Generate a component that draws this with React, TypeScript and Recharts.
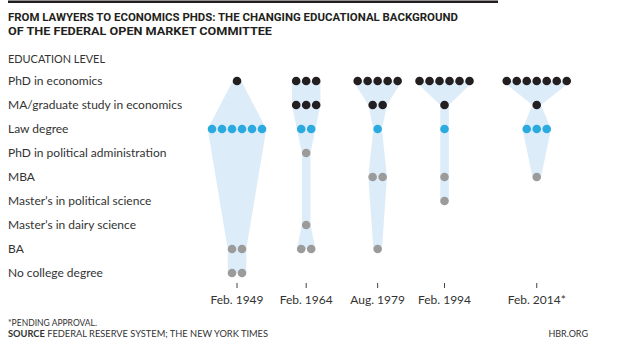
import React from 'react';
import { ComposedChart, Area, Scatter, XAxis, YAxis } from 'recharts';

// ---- data ----
const columnLabels = ['Feb. 1949', 'Feb. 1964', 'Aug. 1979', 'Feb. 1994', 'Feb. 2014*'];
const columnYears = [1949.1, 1964.1, 1979.6, 1994.1, 2014.1];
const levels = [
  'PhD in economics',
  'MA/graduate study in economics',
  'Law degree',
  'PhD in political administration',
  'MBA',
  'Master\u2019s in political science',
  'Master\u2019s in dairy science',
  'BA',
  'No college degree',
];
const levelGroup = ['econ', 'econ', 'law', 'other', 'other', 'other', 'other', 'other', 'other'];
const count1949 = [1, 0, 6, 0, 0, 0, 0, 2, 2];
const count1964 = [3, 3, 2, 1, 0, 0, 1, 2, 0];
const count1979 = [5, 2, 1, 0, 2, 0, 0, 1, 0];
const count1994 = [6, 1, 1, 0, 1, 1, 0, 0, 0];
const count2014 = [7, 1, 3, 0, 1, 0, 0, 0, 0];
const counts = [count1949, count1964, count1979, count1994, count2014];

// ---- layout ----
const W = 618;
const H = 361;
const MARGIN = { top: 57, right: 31, bottom: 48, left: 8 };
const Y_AXIS_W = 164;
const X_AXIS_H = 30;
const X_DOMAIN: [number, number] = [1935, 2025];
const PX_PER_YEAR = (W - MARGIN.left - MARGIN.right - Y_AXIS_W) / (X_DOMAIN[1] - X_DOMAIN[0]);
const DOT_STEP = 10 / PX_PER_YEAR; // spacing of dots, in axis units
const DOT_R = 4.3;
const DOT_R_UNITS = DOT_R / PX_PER_YEAR;

const COLORS: Record<string, string> = { econ: '#231f20', law: '#2aaadf', other: '#9b9b9b' };
const BAND = '#ddecf9';

const dotsByGroup: Record<string, { x: number; row: number }[]> = { econ: [], law: [], other: [] };
counts.forEach((col, c) => {
  col.forEach((n, row) => {
    for (let k = 0; k < n; k++) {
      dotsByGroup[levelGroup[row]].push({ x: columnYears[c] + (k - (n - 1) / 2) * DOT_STEP, row });
    }
  });
});

const bands = counts.map((col, c) =>
  col
    .map((n, row) => ({ n, row }))
    .filter((d) => d.n > 0)
    .map((d) => {
      const hw = ((d.n - 1) / 2) * DOT_STEP + DOT_R_UNITS;
      return { row: d.row, band: [columnYears[c] - hw, columnYears[c] + hw] };
    })
);

const FONT = 'Lato, "Noto Sans", sans-serif';

const RowTick = (props: any) => (
  <text x={8} y={props.y} dy="0.36em" fontSize={12} fontFamily={FONT} fill="#333">
    {levels[props.payload.value]}
  </text>
);

const Dot = (color: string) => (props: any) => (
  <circle cx={props.cx} cy={props.cy} r={DOT_R} fill={color} />
);

export default function App() {
  return (
    <div style={{ position: 'absolute', left: 0, top: 0, width: W, height: H, background: '#fff' }}>
      <ComposedChart
        width={W}
        height={H}
        layout="vertical"
        margin={MARGIN}
        style={{ position: 'absolute', left: 0, top: 0 }}
      >
        <XAxis
          type="number"
          dataKey="x"
          domain={X_DOMAIN}
          allowDataOverflow
          ticks={columnYears}
          interval={0}
          tickFormatter={(v: number) => columnLabels[columnYears.indexOf(v)]}
          axisLine={false}
          tickLine={{ stroke: '#444' }}
          tickSize={5}
          tickMargin={7}
          height={X_AXIS_H}
          tick={{ fontSize: 12, fontFamily: FONT, fill: '#333' }}
        />
        <YAxis
          type="number"
          dataKey="row"
          domain={[-1, 8.4167]}
          allowDataOverflow
          ticks={[0, 1, 2, 3, 4, 5, 6, 7, 8]}
          interval={0}
          width={Y_AXIS_W}
          axisLine={false}
          tickLine={false}
          tick={<RowTick />}
        />
        {bands.map((b, i) => (
          <Area
            key={'band' + i}
            data={b}
            dataKey="band"
            type="linear"
            stroke="none"
            fill={BAND}
            fillOpacity={1}
            dot={false}
            activeDot={false}
            isAnimationActive={false}
          />
        ))}
        {Object.keys(dotsByGroup).map((g) => (
          <Scatter
            key={g}
            data={dotsByGroup[g]}
            fill={COLORS[g]}
            shape={Dot(COLORS[g])}
            isAnimationActive={false}
          />
        ))}
      </ComposedChart>
      <svg width={W} height={H} style={{ position: 'absolute', left: 0, top: 0, pointerEvents: 'none' }}>
        <rect x={8} y={0.5} width={490} height={2.5} fill="#231f20" />
        <text x={8} y={20.7} fontSize={11.5} fontWeight={700} fontFamily='Roboto, sans-serif' fill="#231f20" textLength={450} lengthAdjust="spacingAndGlyphs">
          FROM LAWYERS TO ECONOMICS PHDS: THE CHANGING EDUCATIONAL BACKGROUND
        </text>
        <text x={8} y={34.5} fontSize={11.5} fontWeight={700} fontFamily='Roboto, sans-serif' fill="#231f20" textLength={264} lengthAdjust="spacingAndGlyphs">
          OF THE FEDERAL OPEN MARKET COMMITTEE
        </text>
        <text x={8} y={63} fontSize={11} fontFamily={FONT} fill="#333" textLength={97} lengthAdjust="spacingAndGlyphs">
          EDUCATION LEVEL
        </text>
        <text x={8} y={325.5} fontSize={9} fontFamily={FONT} fill="#333" textLength={89} lengthAdjust="spacingAndGlyphs">
          *PENDING APPROVAL.
        </text>
        <text x={8} y={336.8} fontSize={9} fontFamily={FONT} fill="#333" textLength={260} lengthAdjust="spacingAndGlyphs">
          <tspan fontWeight={700}>SOURCE</tspan> FEDERAL RESERVE SYSTEM; THE NEW YORK TIMES
        </text>
        <text x={588} y={336.8} fontSize={9} fontFamily={FONT} fill="#333" textAnchor="end">
          HBR.ORG
        </text>
      </svg>
    </div>
  );
}
